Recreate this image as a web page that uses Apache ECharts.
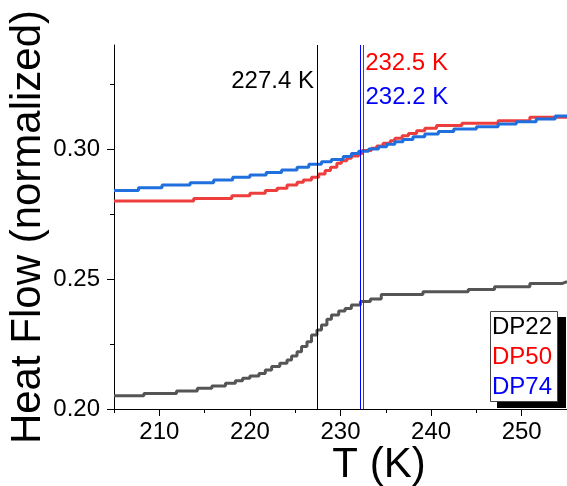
<!DOCTYPE html>
<html>
<head>
<meta charset="utf-8">
<script src="https://cdn.jsdelivr.net/npm/echarts@6/dist/echarts.min.js"></script>
<style>
html,body{margin:0;padding:0;background:#fff;}
#chart{width:567px;height:486px;}
</style>
</head>
<body>
<div id="chart"></div>
<script>
// ---- data ----
const seriesNames = ['DP22', 'DP50', 'DP74'];
const lineColors = ['#555555', '#EE3D3D', '#1F6FDF'];
const legendColors = ['#000000', '#FF0000', '#0000FF'];

const dp22T = [205, 208.3, 211.9, 214.2, 215.8, 217.3, 218.4, 219.2, 220.0, 221.0, 221.7, 222.4, 223.3, 224.1, 224.6, 225.2, 225.7, 226.3, 226.8, 227.4, 227.9, 228.5, 229.0, 229.8, 230.5, 231.2, 232.2, 233.3, 234.5, 239.1, 244.1, 247.0, 250.9, 254.5, 255];
const dp22V = [0.2051, 0.2060, 0.2069, 0.2080, 0.2088, 0.2099, 0.2109, 0.2118, 0.2127, 0.2137, 0.2150, 0.2163, 0.2176, 0.2188, 0.2204, 0.2220, 0.2240, 0.2259, 0.2285, 0.2304, 0.2323, 0.2345, 0.2362, 0.2377, 0.2387, 0.2400, 0.2413, 0.2423, 0.2440, 0.2451, 0.2460, 0.2470, 0.2483, 0.2490, 0.2490];

const dp50T = [205, 213.8, 218.0, 220.0, 221.7, 223.0, 224.1, 225.2, 225.9, 226.8, 227.6, 228.3, 228.9, 229.6, 230.1, 230.7, 231.2, 232.0, 232.4, 233.4, 234.0, 234.7, 235.5, 236.0, 236.8, 237.5, 238.4, 239.3, 240.6, 243.4, 247.4, 250.9, 255];
const dp50V = [0.2800, 0.2810, 0.2820, 0.2830, 0.2840, 0.2849, 0.2862, 0.2872, 0.2881, 0.2891, 0.2904, 0.2917, 0.2930, 0.2945, 0.2955, 0.2964, 0.2973, 0.2983, 0.2994, 0.3003, 0.3012, 0.3022, 0.3032, 0.3041, 0.3051, 0.3060, 0.3070, 0.3080, 0.3090, 0.3099, 0.3109, 0.3122, 0.3122];

const dp74T = [205, 207.7, 210.3, 213.4, 216.0, 218.1, 220.0, 221.8, 223.5, 225.2, 226.5, 227.9, 229.0, 230.3, 231.2, 232.0, 233.1, 234.2, 235.1, 236.0, 236.9, 238.0, 239.3, 240.8, 242.5, 245.0, 247.4, 249.4, 251.6, 253.7, 255];
const dp74V = [0.2840, 0.2851, 0.2862, 0.2870, 0.2881, 0.2891, 0.2900, 0.2910, 0.2919, 0.2930, 0.2941, 0.2951, 0.2960, 0.2971, 0.2983, 0.2991, 0.3000, 0.3009, 0.3018, 0.3028, 0.3037, 0.3047, 0.3058, 0.3067, 0.3077, 0.3086, 0.3096, 0.3105, 0.3115, 0.3127, 0.3127];

// transition temperatures (vertical lines) and their labels
const tgValues = [227.4, 232.5, 232.2];
const tgLabels = ['227.4 K', '232.5 K', '232.2 K'];
const tgLineColors = ['#000000', '#FF0000', '#0000FF'];
const tgLabelY = [0.3262, 0.3329, 0.3197];
const tgLabelSide = ['left', 'right', 'right'];

const xMajorTicks = [210, 220, 230, 240, 250];
const xMinorTicks = [205, 215, 225, 235, 245, 255];
const yMajorTicks = [0.20, 0.25, 0.30];
const yMinorTicks = [0.225, 0.275, 0.325];

const xTitle = 'T (K)';
const yTitle = 'Heat Flow (normalized)';

// ---- chart ----
const FONT = '"Liberation Sans", Arial, Helvetica, sans-serif';
const zip = (a, b) => a.map((v, i) => [v, b[i]]);
const curves = [zip(dp22T, dp22V), zip(dp50T, dp50V), zip(dp74T, dp74V)];

const chart = echarts.init(document.getElementById('chart'), null, {renderer: 'canvas'});

const series = seriesNames.map((name, i) => ({
  name: name,
  type: 'line',
  step: 'end',
  showSymbol: false,
  symbol: 'none',
  animation: false,
  data: curves[i],
  color: lineColors[i],
  lineStyle: {color: lineColors[i], width: 3},
  z: 2 + i
}));

// vertical lines
series.push({
  name: 'tg',
  type: 'line',
  data: [],
  animation: false,
  z: 6,
  markLine: {
    silent: true,
    symbol: 'none',
    animation: false,
    label: {show: false},
    data: tgValues.map((v, i) => ({xAxis: v, lineStyle: {color: tgLineColors[i], width: 1, type: 'solid', opacity: 1}}))
  }
});

// labels for the vertical lines
series.push({
  name: 'tgLabels',
  type: 'scatter',
  symbolSize: 0,
  animation: false,
  silent: true,
  z: 7,
  itemStyle: {opacity: 1},
  data: tgValues.map((v, i) => ({
    value: [v, tgLabelY[i]],
    itemStyle: {opacity: 1},
    label: {
      show: true,
      formatter: tgLabels[i],
      position: tgLabelSide[i],
      distance: tgLabelSide[i] === 'left' ? 3 : (i === 2 ? 5 : 2),
      color: tgLineColors[i],
      opacity: 1,
      textBorderWidth: 0,
      fontSize: 24,
      fontFamily: FONT
    }
  }))
});

const option = {
  backgroundColor: '#ffffff',
  animation: false,
  grid: {left: 114, right: -1, top: 45, bottom: 77, containLabel: false},
  legend: {
    show: true,
    orient: 'vertical',
    left: 487,
    top: 312,
    z: 20,
    icon: 'none',
    itemWidth: 0,
    itemHeight: 10,
    itemGap: 0,
    padding: 0,
    selectedMode: false,
    textStyle: {fontSize: 24, fontFamily: FONT, lineHeight: 30},
    data: seriesNames.map((n, i) => ({name: n, textStyle: {color: legendColors[i]}}))
  },
  xAxis: [{
    type: 'value',
    min: 205,
    max: 255,
    splitLine: {show: false},
    axisLine: {show: true, onZero: false, lineStyle: {color: '#000', width: 1}},
    axisTick: {show: true, inside: false, length: 7, lineStyle: {color: '#000'}, customValues: xMajorTicks},
    axisLabel: {show: true, margin: 11, color: '#000', fontSize: 24, fontFamily: FONT, customValues: xMajorTicks}
  }, {
    type: 'value',
    min: 205,
    max: 255,
    position: 'bottom',
    splitLine: {show: false},
    axisLine: {show: false, onZero: false},
    axisTick: {show: true, inside: false, length: 4, lineStyle: {color: '#000'}, customValues: xMinorTicks},
    axisLabel: {show: false, customValues: xMinorTicks}
  }],
  yAxis: [{
    type: 'value',
    min: 0.20,
    max: 0.34,
    splitLine: {show: false},
    axisLine: {show: true, onZero: false, lineStyle: {color: '#000', width: 1}},
    axisTick: {show: true, inside: false, length: 7, lineStyle: {color: '#000'}, customValues: yMajorTicks},
    axisLabel: {show: true, margin: 14, color: '#000', fontSize: 24, fontFamily: FONT,
      customValues: yMajorTicks, formatter: v => v.toFixed(2)}
  }, {
    type: 'value',
    min: 0.20,
    max: 0.34,
    position: 'left',
    splitLine: {show: false},
    axisLine: {show: false, onZero: false},
    axisTick: {show: true, inside: false, length: 4, lineStyle: {color: '#000'}, customValues: yMinorTicks},
    axisLabel: {show: false, customValues: yMinorTicks}
  }],
  graphic: [{
    type: 'rect',
    z: 10,
    silent: true,
    shape: {x: 497, y: 317, width: 69, height: 91},
    style: {fill: '#000000'}
  }, {
    type: 'rect',
    z: 11,
    silent: true,
    shape: {x: 490.5, y: 311.5, width: 67, height: 90},
    style: {fill: '#ffffff', stroke: '#444444', lineWidth: 1}
  }, {
    type: 'text',
    x: 379,
    y: 465.5,
    silent: true,
    style: {text: xTitle, fontSize: 42, fontFamily: FONT, fill: '#000', align: 'center', verticalAlign: 'middle'}
  }, {
    type: 'text',
    x: 28.5,
    y: 227,
    rotation: Math.PI / 2,
    silent: true,
    style: {text: yTitle, fontSize: 42, fontFamily: FONT, fill: '#000', align: 'center', verticalAlign: 'middle'}
  }],
  series: series
};

chart.setOption(option);
</script>
</body>
</html>
